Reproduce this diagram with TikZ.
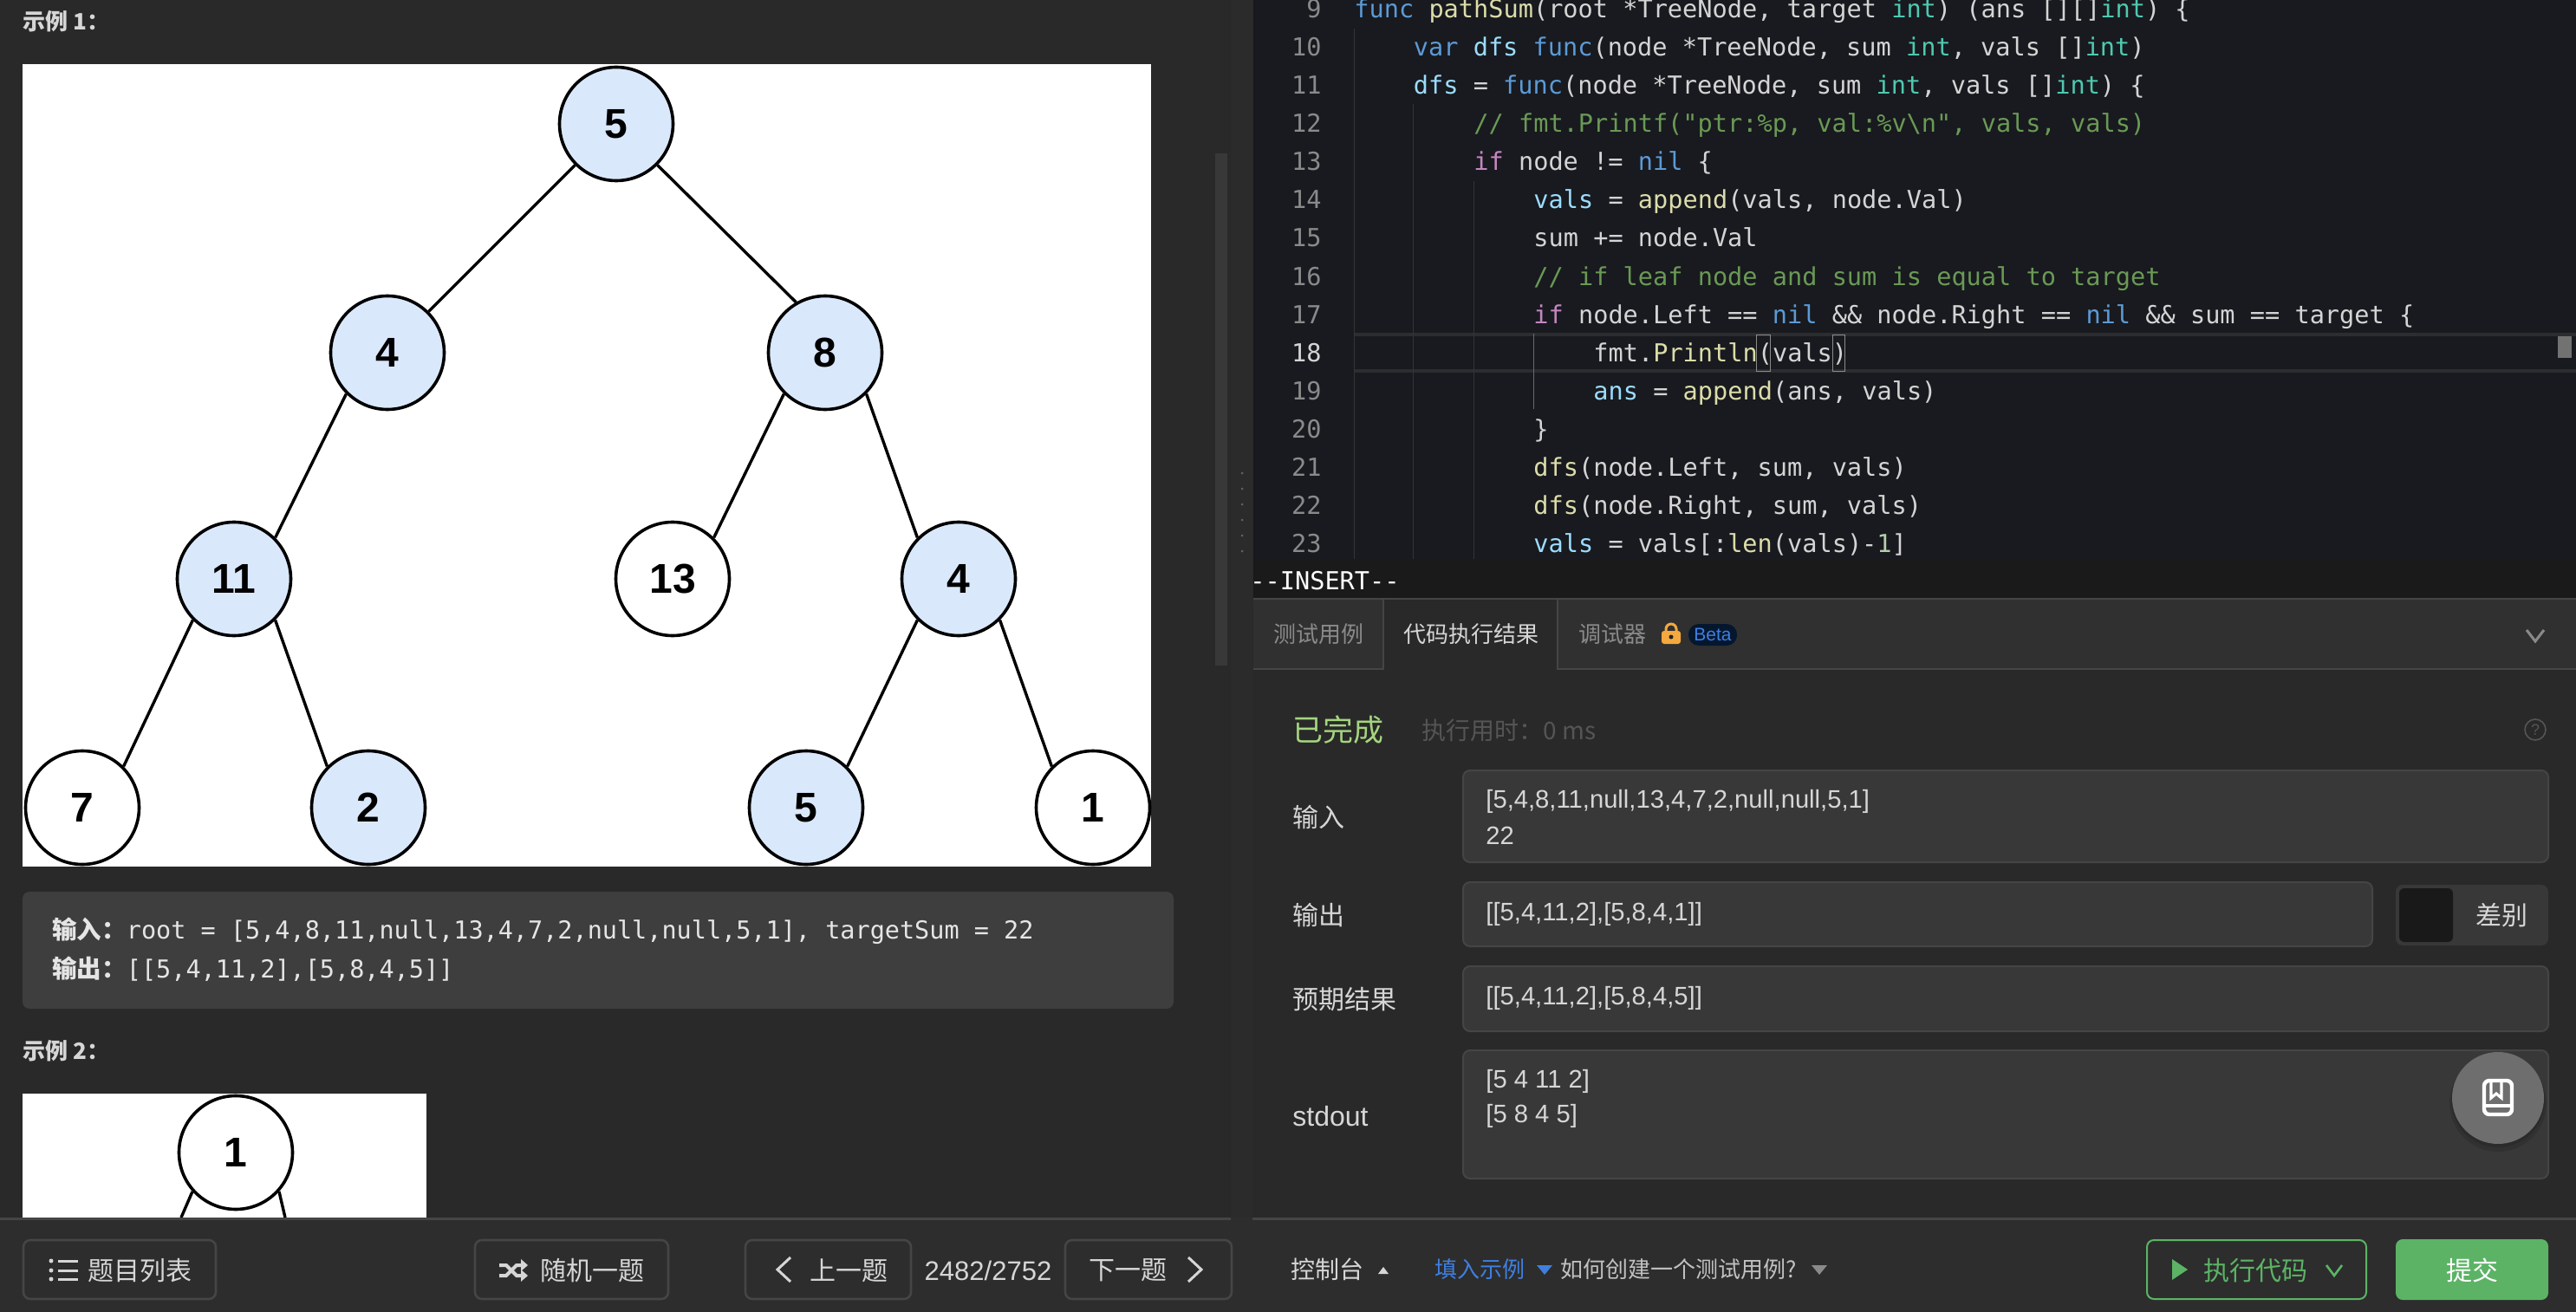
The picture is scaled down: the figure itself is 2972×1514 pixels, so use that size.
\documentclass[tikz,border=0pt]{standalone}
\usepackage{fontspec}
\usepackage{xcolor}
\usepackage{tikz}
\setmainfont{Liberation Sans}
\setmonofont{DejaVu Sans Mono}
\newfontfamily\cjkfont{Noto Sans CJK SC}

\definecolor{panelbg}{HTML}{292929}
\definecolor{gutterbg}{HTML}{2B2B2B}
\definecolor{barbg}{HTML}{2D2D2D}
\definecolor{editorbg}{HTML}{181A1F}
\definecolor{insertbg}{HTML}{1A1A1A}
\definecolor{tabbg}{HTML}{303030}
\definecolor{fieldbg}{HTML}{383838}
\definecolor{fieldline}{HTML}{454545}
\definecolor{codebox}{HTML}{3E3E3E}
\definecolor{treeblue}{HTML}{DAE8FC}
\definecolor{labelgray}{HTML}{D6D6D6}
\definecolor{dimgray}{HTML}{8A8A8A}
\definecolor{okgreen}{HTML}{A5D57F}
\definecolor{btngreen}{HTML}{5CB365}
\definecolor{linkblue}{HTML}{3F7FE0}
\definecolor{lockorange}{HTML}{F5A83E}
\definecolor{betabg}{HTML}{05172F}
\definecolor{fabgray}{HTML}{6E6E6E}
\definecolor{ckw}{HTML}{5C9AD6}
\definecolor{cfn}{HTML}{DCDCAA}
\definecolor{ctype}{HTML}{4EC9B0}
\definecolor{cvar}{HTML}{9CDCFE}
\definecolor{ccmt}{HTML}{6A9955}
\definecolor{cctl}{HTML}{C586C0}
\definecolor{cnum}{HTML}{B5CEA8}
\definecolor{ctext}{HTML}{D4D4D4}

\newcommand{\fsz}[1]{\fontsize{#1}{#1}\selectfont}
\newcommand{\kw}[1]{\textcolor{ckw}{#1}}
\newcommand{\fn}[1]{\textcolor{cfn}{#1}}
\newcommand{\ty}[1]{\textcolor{ctype}{#1}}
\newcommand{\vr}[1]{\textcolor{cvar}{#1}}
\newcommand{\ctl}[1]{\textcolor{cctl}{#1}}
\newcommand{\nm}[1]{\textcolor{cnum}{#1}}

\tikzset{
    treenode/.style = {circle, draw = black, line width = 1.8pt, minimum size = 65.5pt, inner sep = 0pt,
        font = \bfseries\fsz{24}, text = black},
    blue node/.style = {treenode, fill = treeblue},
    white node/.style = {treenode, fill = white},
    tree edge/.style = {draw = black, line width = 1.7pt},
    codeline/.style = {anchor = base west, inner sep = 0pt, text = ctext, font = \ttfamily\fsz{14.3}},
    linenum/.style = {anchor = base east, inner sep = 0pt, text = dimgray, font = \ttfamily\fsz{14.3}},
    cjklabel/.style = {anchor = west, inner sep = 0pt, text = labelgray, font = \cjkfont\fsz{15}},
    fieldtext/.style = {anchor = west, inner sep = 0pt, text = labelgray, font = \fsz{14.6}},
    fieldbox/.style = {fill = fieldbg, draw = fieldline, line width = 1pt, rounded corners = 4pt},
    navbtn/.style = {draw = fieldline, line width = 1.3pt, rounded corners = 4pt},
    navtext/.style = {inner sep = 0pt, text = labelgray, font = \cjkfont\fsz{15}}
}

\begin{document}
\begin{tikzpicture}[x = 0.5pt, y = -0.5pt]
    \useasboundingbox (0, 0) rectangle (2972, 1514);

    \fill[panelbg] (0, 0) rectangle (2972, 1514);
    \fill[gutterbg] (1420, 0) rectangle (1445, 1405);
    \fill[codebox!70!panelbg] (1402, 177) rectangle (1416, 768);
    \foreach \d in {546, 564, 582, 600, 618, 636}
        \fill[dimgray!60!panelbg] (1433, \d) circle (1.5);

    % left panel
    \node[cjklabel, font = \cjkfont\bfseries\fsz{13}] (head1) at (26, 25) {示例 1：};
    \fill[white] (26, 74) rectangle (1328, 1000);

    \node[blue node] (root) at (711, 143) {5};
    \node[blue node] (nodeb) at (447, 407) {4};
    \node[blue node] (nodec) at (952, 407) {8};
    \node[blue node] (noded) at (270, 668) {11};
    \node[white node] (nodee) at (776, 668) {13};
    \node[blue node] (nodef) at (1106, 668) {4};
    \node[white node] (nodeg) at (95, 932) {7};
    \node[blue node] (nodeh) at (425, 932) {2};
    \node[blue node] (nodei) at (930, 932) {5};
    \node[white node] (nodej) at (1261, 932) {1};

    \draw[tree edge] (root.225) -- (nodeb.45);
    \draw[tree edge] (root.315) -- (nodec.120);
    \draw[tree edge] (nodeb.225) -- (noded.45);
    \draw[tree edge] (nodec.225) -- (nodee.45);
    \draw[tree edge] (nodec.315) -- (nodef.135);
    \draw[tree edge] (noded.225) -- (nodeg.45);
    \draw[tree edge] (noded.315) -- (nodeh.135);
    \draw[tree edge] (nodef.225) -- (nodei.45);
    \draw[tree edge] (nodef.315) -- (nodej.135);

    \fill[codebox, rounded corners = 4pt] (26, 1029) rectangle (1354, 1164);
    \node[codeline, font = \ttfamily\fsz{14.25}, text = white!90!black] (inline) at (60, 1083)
        {{\cjkfont\bfseries 输入：}root = [5,4,8,11,null,13,4,7,2,null,null,5,1], targetSum = 22};
    \node[codeline, font = \ttfamily\fsz{14.25}, text = white!90!black] (outline) at (60, 1128)
        {{\cjkfont\bfseries 输出：}[[5,4,11,2],[5,8,4,5]]};

    \node[cjklabel, font = \cjkfont\bfseries\fsz{13}] (head2) at (26, 1213) {示例 2：};
    \fill[white] (26, 1262) rectangle (492, 1405);
    \coordinate (leftend) at (209, 1405);
    \coordinate (rightend) at (329, 1405);
    \node[white node] (rootb) at (272, 1330) {1};
    \draw[tree edge] (rootb.222) -- (leftend);
    \draw[tree edge] (rootb.318) -- (rightend);

    % left bottom bar
    \fill[barbg] (0, 1405) rectangle (1445, 1514);
    \draw[fieldline, line width = 1.5pt] (0, 1406) -- (1420, 1406);
    \draw[navbtn] (27, 1431) rectangle (249, 1499);
    \draw[navbtn] (548, 1431) rectangle (771, 1499);
    \draw[navbtn] (860, 1431) rectangle (1051, 1499);
    \draw[navbtn] (1229, 1431) rectangle (1421, 1499);
    \foreach \d in {1455, 1466, 1476} {
        \fill[labelgray] (59, \d) circle (2.5);
        \draw[labelgray, line width = 1.5pt] (67, \d) -- (90, \d);
    }
    \node[navtext, anchor = west] (listbtn) at (101, 1466) {题目列表};
    \draw[labelgray, line width = 2pt] (576, 1460) -- (584, 1460) -- (596, 1472) -- (603, 1472);
    \draw[labelgray, line width = 2pt] (576, 1472) -- (584, 1472) -- (596, 1460) -- (603, 1460);
    \fill[labelgray] (601, 1453) -- (609, 1460) -- (601, 1467) -- cycle;
    \fill[labelgray] (601, 1465) -- (609, 1472) -- (601, 1479) -- cycle;
    \node[navtext, anchor = west] (randbtn) at (623, 1466) {随机一题};
    \draw[labelgray, line width = 1.5pt] (912, 1451) -- (897, 1465) -- (912, 1479);
    \node[navtext, anchor = west] (prevbtn) at (934, 1466) {上一题};
    \node[inner sep = 0pt, text = labelgray, font = \fsz{15.5}] (counter) at (1140, 1466) {2482/2752};
    \node[navtext, anchor = west] (nextbtn) at (1256, 1466) {下一题};
    \draw[labelgray, line width = 1.5pt] (1371, 1451) -- (1386, 1465) -- (1371, 1479);

    % editor
    \fill[editorbg] (1446, 0) rectangle (2972, 645);
    \fill[insertbg] (1446, 645) rectangle (2972, 691);
    \draw[fieldline!45!editorbg, line width = 2pt] (1562, 386) -- (2972, 386);
    \draw[fieldline!45!editorbg, line width = 2pt] (1562, 428) -- (2972, 428);
    \draw[fieldline!60!editorbg] (1562, 33) -- (1562, 645);
    \draw[fieldline!60!editorbg] (1630.5, 120) -- (1630.5, 645);
    \draw[fieldline!60!editorbg] (1700, 209) -- (1700, 645);
    \draw[fieldline!80!white] (1769, 385) -- (1769, 472);
    \draw[dimgray] (2026, 386) rectangle (2042, 428);
    \draw[dimgray] (2114, 386) rectangle (2128, 428);
    \fill[dimgray!120!white] (2951, 388) rectangle (2967, 413);

    \foreach \n [evaluate = \n as \y using int(21 + 44 * (\n - 9))] in {9, 10, 11, 12, 13, 14, 15, 16, 17, 19, 20, 21, 22, 23}
        \node[linenum] (ln\n) at (1525, \y) {\n};
    \node[linenum, text = ctext] (ln18) at (1525, 417) {18};

    \node[codeline] (code9) at (1562, 21) {\kw{func} \fn{pathSum}(root *TreeNode, target \ty{int}) (ans [][]\ty{int}) \{};
    \node[codeline] (code10) at (1630.5, 65) {\kw{var} \vr{dfs} \kw{func}(node *TreeNode, sum \ty{int}, vals []\ty{int})};
    \node[codeline] (code11) at (1630.5, 109) {\vr{dfs} = \kw{func}(node *TreeNode, sum \ty{int}, vals []\ty{int}) \{};
    \node[codeline, text = ccmt] (code12) at (1700, 153) {// fmt.Printf("ptr:\%p, val:\%v\textbackslash n", vals, vals)};
    \node[codeline] (code13) at (1700, 197) {\ctl{if} node != \kw{nil} \{};
    \node[codeline] (code14) at (1769, 241) {\vr{vals} = \fn{append}(vals, node.Val)};
    \node[codeline] (code15) at (1769, 285) {sum += node.Val};
    \node[codeline, text = ccmt] (code16) at (1769, 329) {// if leaf node and sum is equal to target};
    \node[codeline] (code17) at (1769, 373) {\ctl{if} node.Left == \kw{nil} \&\& node.Right == \kw{nil} \&\& sum == target \{};
    \node[codeline] (code18) at (1838, 417) {fmt.\fn{Println}(vals)};
    \node[codeline] (code19) at (1838, 461) {\vr{ans} = \fn{append}(ans, vals)};
    \node[codeline] (code20) at (1769, 505) {\}};
    \node[codeline] (code21) at (1769, 549) {\fn{dfs}(node.Left, sum, vals)};
    \node[codeline] (code22) at (1769, 593) {\fn{dfs}(node.Right, sum, vals)};
    \node[codeline] (code23) at (1769, 637) {\vr{vals} = vals[:\fn{len}(vals)-\nm{1}]};
    \node[codeline, text = white] (insert) at (1442, 680) {-{}-INSERT-{}-};

    % tabs
    \fill[tabbg] (1446, 691) rectangle (2972, 772);
    \fill[panelbg] (1596, 691) rectangle (1797, 772);
    \draw[fieldline, line width = 1pt] (1446, 691) -- (2972, 691);
    \draw[fieldline, line width = 1pt] (1446, 772) -- (1596, 772) -- (1596, 691);
    \draw[fieldline, line width = 1pt] (1797, 691) -- (1797, 772) -- (2972, 772);
    \node[cjklabel, anchor = center, text = dimgray, font = \cjkfont\fsz{13}] (tabcase) at (1521, 732) {测试用例};
    \node[cjklabel, anchor = center, font = \cjkfont\fsz{13}] (tabresult) at (1697, 732) {代码执行结果};
    \node[cjklabel, anchor = center, text = dimgray, font = \cjkfont\fsz{13}] (tabdebug) at (1860, 732) {调试器};
    \fill[lockorange, rounded corners = 1.5pt] (1917, 728) rectangle (1939, 743);
    \draw[lockorange, line width = 1.5pt] (1922, 729) -- (1922, 726) arc (180:360:6) -- (1934, 729);
    \fill[tabbg!70!black] (1928, 735) circle (2.5);
    \node[fill = betabg, text = linkblue, rounded corners = 6pt, inner sep = 0pt, minimum width = 28pt,
        minimum height = 12.5pt, font = \fsz{10.5}] (betatag) at (1976, 732.5) {Beta};
    \draw[dimgray, line width = 1.5pt] (2915, 727) -- (2925, 740) -- (2935, 727);

    % result
    \node[cjklabel, text = okgreen, font = \cjkfont\fsz{17.5}] (status) at (1491, 842) {已完成};
    \node[cjklabel, text = dimgray!45!panelbg, font = \cjkfont\fsz{14}] (runtime) at (1640, 843) {执行用时：0 ms};
    \node[circle, draw = dimgray!45!panelbg, line width = 0.8pt, inner sep = 0pt, minimum size = 12pt,
        text = dimgray!45!panelbg, font = \fsz{9}] (helpmark) at (2925, 842) {?};

    \node[cjklabel] (inlabel) at (1491, 943) {输入};
    \node[cjklabel] (outlabel) at (1491, 1056) {输出};
    \node[cjklabel] (explabel) at (1491, 1153) {预期结果};
    \node[cjklabel, font = \fsz{16}] (stdlabel) at (1491, 1288) {stdout};

    \draw[fieldbox] (1688, 889) rectangle (2940, 995);
    \draw[fieldbox] (1688, 1018) rectangle (2737, 1092);
    \draw[fieldbox] (1688, 1115) rectangle (2940, 1190);
    \draw[fieldbox] (1688, 1212) rectangle (2940, 1360);
    \fill[fieldbg, rounded corners = 4pt] (2764, 1021) rectangle (2940, 1091);
    \fill[black!90!white, rounded corners = 3pt] (2768, 1025) rectangle (2830, 1087);
    \node[cjklabel, anchor = center] (difflabel) at (2886, 1056) {差别};

    \node[fieldtext] (intext) at (1714, 925) {[5,4,8,11,null,13,4,7,2,null,null,5,1]};
    \node[fieldtext] (intarget) at (1714, 964) {22};
    \node[fieldtext] (outtext) at (1714, 1055) {[[5,4,11,2],[5,8,4,1]]};
    \node[fieldtext] (exptext) at (1714, 1152) {[[5,4,11,2],[5,8,4,5]]};
    \node[fieldtext] (stdone) at (1714, 1248) {[5 4 11 2]};
    \node[fieldtext] (stdtwo) at (1714, 1288) {[5 8 4 5]};

    \fill[black, opacity = 0.12] (2882, 1273) circle (56);
    \fill[black, opacity = 0.12] (2882, 1270) circle (54);
    \fill[fabgray] (2882, 1267) circle (53);
    \draw[white, line width = 2.2pt, rounded corners = 3pt] (2866, 1247) rectangle (2898, 1286);
    \draw[white, line width = 2.2pt] (2866, 1276) -- (2898, 1276);
    \draw[white, line width = 1.6pt] (2874, 1247) -- (2874, 1267) -- (2880, 1262) -- (2886, 1267) -- (2886, 1247);

    % right bottom bar
    \fill[barbg] (1445, 1405) rectangle (2972, 1514);
    \draw[fieldline, line width = 1.5pt] (1445, 1406) -- (2972, 1406);
    \node[cjklabel, font = \cjkfont\fsz{14}] (console) at (1489, 1465) {控制台};
    \fill[labelgray] (1590, 1470) -- (1602, 1470) -- (1596, 1462) -- cycle;
    \node[cjklabel, text = linkblue, font = \cjkfont\fsz{13}] (fillcase) at (1655, 1465) {填入示例};
    \fill[linkblue] (1773, 1460) -- (1791, 1460) -- (1782, 1471) -- cycle;
    \node[cjklabel, text = labelgray!90!black, font = \cjkfont\fsz{13}] (howto) at (1800, 1465) {如何创建一个测试用例?};
    \fill[dimgray] (2090, 1460) -- (2108, 1460) -- (2099, 1471) -- cycle;

    \draw[btngreen, line width = 1pt, rounded corners = 4pt] (2477, 1431) rectangle (2730, 1499);
    \fill[btngreen] (2506, 1453) -- (2524, 1465) -- (2506, 1477) -- cycle;
    \node[cjklabel, text = btngreen] (runbtn) at (2542, 1466) {执行代码};
    \draw[btngreen, line width = 1.3pt] (2684, 1460) -- (2693, 1472) -- (2702, 1460);
    \fill[btngreen, rounded corners = 4pt] (2764, 1430) rectangle (2940, 1500);
    \node[cjklabel, anchor = center, text = white] (submit) at (2852, 1466) {提交};
\end{tikzpicture}
\end{document}
